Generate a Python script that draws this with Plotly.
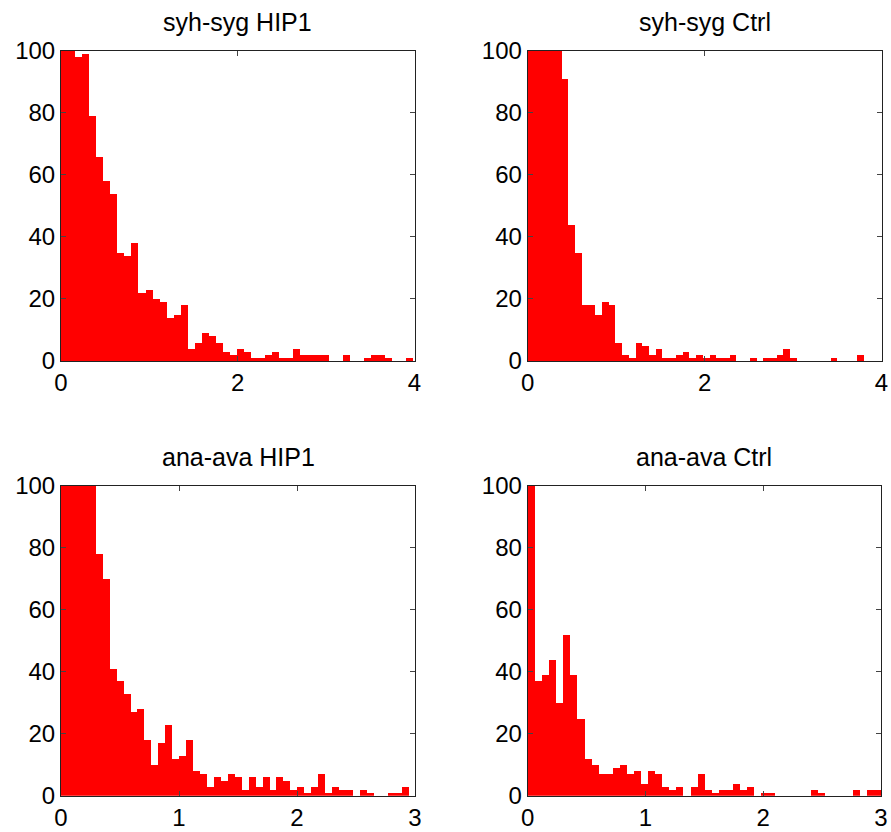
import numpy as np
import plotly.graph_objects as go

# ---- data: histogram counts (50 bins each); first bins exceed the 100 axis limit ----
titles = ["syh-syg HIP1", "syh-syg Ctrl", "ana-ava HIP1", "ana-ava Ctrl"]

counts_syh_hip1 = [140, 120, 98, 99, 79, 66, 58, 54, 35, 34, 38, 22, 23, 20, 19, 14, 15, 18, 4, 6,
                   9, 8, 6, 3, 2, 4, 3, 1, 1, 2, 3, 1, 1, 4, 2, 2, 2, 2, 0, 0,
                   2, 0, 0, 1, 2, 2, 1, 0, 0, 1]
counts_syh_ctrl = [150, 160, 140, 130, 110, 91, 44, 35, 18, 18, 15, 19, 18, 6, 2, 1, 6, 5, 2, 4,
                   1, 1, 2, 3, 1, 2, 1, 2, 1, 1, 2, 0, 0, 1, 0, 1, 1, 2, 4, 1,
                   0, 0, 0, 0, 0, 1, 0, 0, 0, 2]
counts_ana_hip1 = [160, 150, 140, 120, 105, 78, 70, 41, 37, 33, 27, 28, 18, 10, 17, 23, 12, 13, 18, 8,
                   7, 3, 6, 5, 7, 6, 2, 6, 3, 6, 2, 6, 5, 2, 3, 1, 3, 7, 1, 3,
                   2, 2, 0, 2, 1, 0, 0, 1, 1, 3]
counts_ana_ctrl = [150, 37, 39, 44, 30, 52, 39, 25, 12, 10, 7, 7, 9, 10, 7, 8, 4, 8, 7, 3,
                   2, 3, 0, 3, 7, 2, 1, 2, 2, 4, 2, 3, 0, 1, 1, 0, 0, 0, 0, 0,
                   2, 1, 0, 0, 0, 0, 2, 0, 2, 2]

# data min/max spanned by the 50 bins
bin_ranges = [(0.0, 3.985), (0.0, 3.80), (0.0, 2.945), (0.0, 3.0)]
x_ranges = [(0, 4), (0, 4), (0, 3), (0, 3)]
x_ticks = [[0, 2, 4], [0, 2, 4], [0, 1, 2, 3], [0, 1, 2, 3]]
y_ticks = [0, 20, 40, 60, 80, 100]

all_counts = [counts_syh_hip1, counts_syh_ctrl, counts_ana_hip1, counts_ana_ctrl]

W, H = 891, 832
# panel pixel boxes (left, right, top, bottom)
boxes = [(61, 414.5, 50.7, 361), (527.7, 881.5, 50.7, 361),
         (61, 415, 485.7, 795.7), (527.7, 881, 485.7, 795.7)]

fig = go.Figure()
font_family = "Liberation Sans, Arial, Helvetica, sans-serif"

for i, (cnts, (lo, hi)) in enumerate(zip(all_counts, bin_ranges)):
    n = len(cnts)
    w = (hi - lo) / n
    centers = lo + (np.arange(n) + 0.5) * w
    ax = "" if i == 0 else str(i + 1)
    fig.add_trace(go.Bar(x=centers, y=cnts, width=w,
                         marker=dict(color="#ff0000", line=dict(width=0)),
                         xaxis="x" + ax, yaxis="y" + ax, showlegend=False))
    l, r, t, b = boxes[i]
    xd = [l / W, r / W]
    yd = [1 - b / H, 1 - t / H]
    axis_common = dict(showgrid=False, zeroline=False, showline=True, linecolor="#222222",
                       linewidth=1, mirror="ticks", ticks="inside", ticklen=5,
                       automargin=False,
                       tickcolor="#444444", tickfont=dict(size=24, color="black", family=font_family))
    fig.update_layout(**{
        "xaxis" + ax: dict(domain=xd, range=list(x_ranges[i]), tickvals=x_ticks[i],
                           anchor="y" + ax, **axis_common),
        "yaxis" + ax: dict(domain=yd, range=[0, 100], tickvals=y_ticks,
                           anchor="x" + ax, **axis_common),
    })
    fig.add_annotation(text=titles[i], x=(l + r) / 2 / W, y=1 - (t - 29) / H,
                       xref="paper", yref="paper", xanchor="center", yanchor="middle",
                       showarrow=False, font=dict(size=25, color="black", family=font_family))

fig.update_layout(width=W, height=H, margin=dict(l=0, r=0, t=0, b=0),
                  paper_bgcolor="white", plot_bgcolor="white", bargap=0)
fig.write_html("out.html")
